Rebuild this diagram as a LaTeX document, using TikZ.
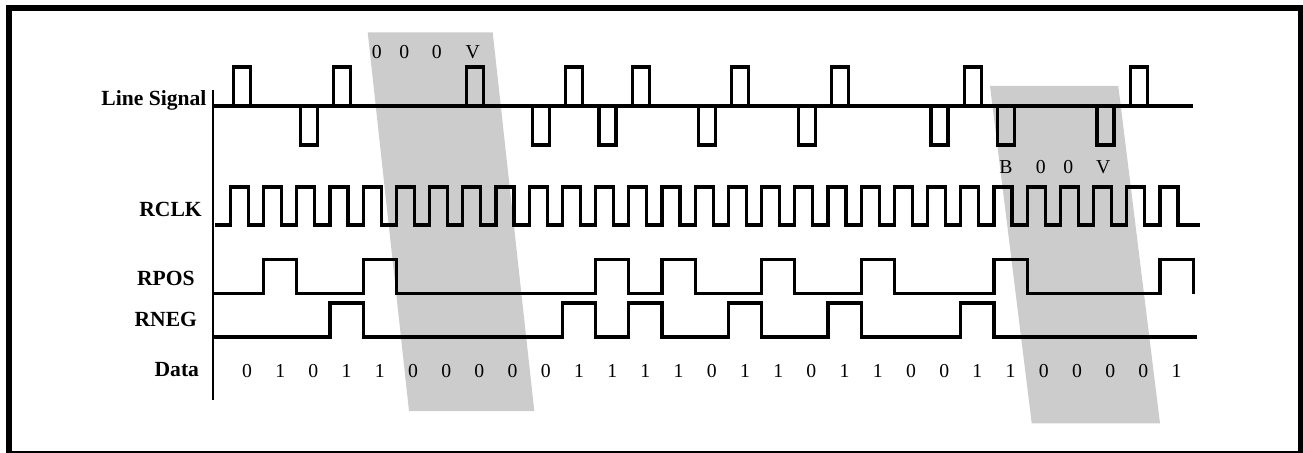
\documentclass[tikz,border=0pt]{standalone}
\usepackage{fontspec}
\setmainfont{Liberation Serif}

\begin{document}
\begin{tikzpicture}[x=0.75pt,y=-0.75pt]

            \tikzstyle{sigLabel} = [font=\fontsize{16.2}{19}\selectfont\bfseries, anchor=base east, inner sep=0pt];
            \tikzstyle{bitText} = [font=\fontsize{14.8}{17}\selectfont, anchor=base, inner sep=0pt];
            \tikzstyle{wave} = [line width=2.4pt];
            \tikzstyle{hdbZone} = [fill=black!20];

            \useasboundingbox (0,0) rectangle (1303,453);

            \fill[hdbZone] (367.7,32.3) -- (492.7,32.3) -- (534.3,411) -- (409,411) -- cycle;
            \fill[hdbZone] (990,86) -- (1118.3,86) -- (1160,423.3) -- (1031.7,423.3) -- cycle;

            \draw[line width=4.5pt] (9,8) rectangle (1301,453.5);

            \node[sigLabel] (line) at (206.7,105) {Line Signal};
            \node[sigLabel] (rclk) at (202,216.7) {RCLK};
            \node[sigLabel] (rpos) at (195,285) {RPOS};
            \node[sigLabel] (rneg) at (197.3,326.7) {RNEG};
            \node[sigLabel] (data) at (199.3,376.7) {Data};

            \draw[line width=1.5pt] (213.3,90) -- (213.3,400);

            \draw[wave] (213,106) -- (1193,106);
            \foreach \i in {1,4,8,11,13,16,19,23,28}
              \draw[wave] ({200.5+33.2*\i},106) -- ++(0,-39) -- ++(17,0) -- ++(0,39);
            \foreach \i in {3,10,12,15,18,22,24,27}
              \draw[wave] ({200.5+33.2*\i},106) -- ++(0,39) -- ++(17,0) -- ++(0,-39);

            \draw[wave] (215,225) \foreach \k [evaluate=\k as \r using 230.4+33.2*\k] in {0,...,28}
              { -- (\r,225) -- (\r,187) -- (\r+18,187) -- (\r+18,225) } -- (1200,225);

            \draw[wave] (213,293.5) \foreach \i [evaluate=\i as \r using 230.4+33.2*\i] in {1,4,11,13,16,19,23,28}
              { -- (\r,293.5) -- (\r,259.5) -- (\r+33.2,259.5) -- (\r+33.2,293.5) };
            \draw[wave] (213,337) \foreach \i [evaluate=\i as \r using 230.4+33.2*\i] in {3,10,12,15,18,22}
              { -- (\r,337) -- (\r,303) -- (\r+33.2,303) -- (\r+33.2,337) } -- (1197,337);

            \foreach \b [count=\i from 0] in {0,1,0,1,1,0,0,0,0,0,1,1,1,1,0,1,1,0,1,1,0,0,1,1,0,0,0,0,1}
              \node[bitText] (bit\i) at ({247+33.2*\i},377) {\b};

            \foreach \x/\t [count=\n] in {376.7/0,404.3/0,436.7/0,472.7/V}
              \node[bitText] (sub\n) at (\x,59) {\t};
            \foreach \x/\t [count=\n] in {1006/B,1040.7/0,1068.3/0,1103.3/V}
              \node[bitText] (hdb\n) at (\x,173.3) {\t};
          \end{tikzpicture}
\end{document}
